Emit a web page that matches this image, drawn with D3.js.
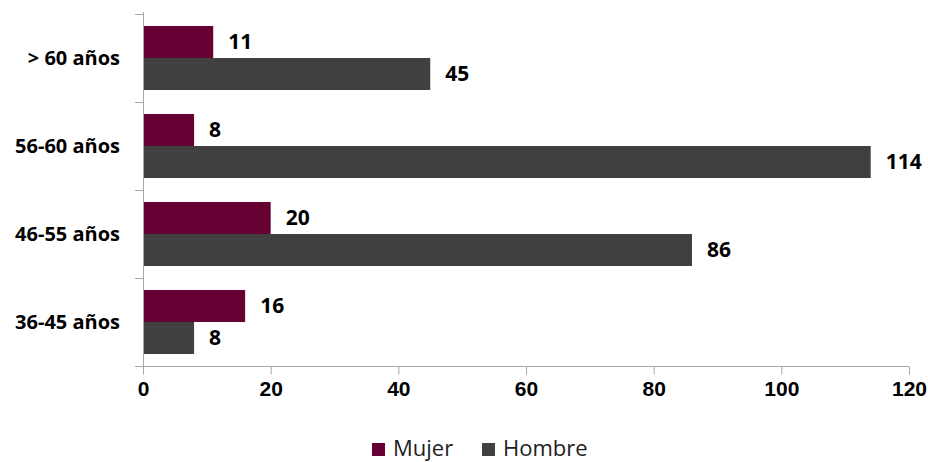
<!DOCTYPE html>
<html><head><meta charset="utf-8">
<script src="https://cdn.jsdelivr.net/npm/d3@7"></script>
<style>body{margin:0;background:#fff}svg{display:block;font-family:"Open Sans","Noto Sans",sans-serif}</style>
</head><body><svg id="c" width="928" height="462"></svg>
<script>
const categories = ["> 60 años", "56-60 años", "46-55 años", "36-45 años"];
const series = ["Mujer", "Hombre"];
const mujer = [11, 8, 20, 16];
const hombre = [45, 114, 86, 8];
const xTicks = [0, 20, 40, 60, 80, 100, 120];
const colors = ["#660033", "#404040"];

const svg = d3.select("#c");
const x = d3.scaleLinear().domain([0, 120]).range([143, 909]);
const y = d3.scaleBand().domain(categories).range([14, 366]).paddingInner(24/88).paddingOuter(12/88);
const yIn = d3.scaleBand().domain(series).range([0, y.bandwidth()]);
const axisColor = "#a6a6a6";

// y axis line and ticks
svg.append("line").attr("x1", x(0)+0.5).attr("x2", x(0)+0.5).attr("y1", 12).attr("y2", 366).attr("stroke", axisColor);
const step = y.step();
const bounds = d3.range(categories.length + 1).map(i => 14 + i*step);
svg.selectAll(".yt").data(bounds).join("line").attr("x1", 135).attr("x2", x(0)).attr("y1", d=>Math.round(d)+0.5).attr("y2", d=>Math.round(d)+0.5).attr("stroke", axisColor);

// x axis
const xa = svg.append("g").attr("transform", "translate(0,366.5)")
  .call(d3.axisBottom(x).tickValues(xTicks).tickSize(8).tickSizeOuter(0).tickPadding(10));
xa.select(".domain").attr("stroke", axisColor).attr("d", `M135,0H${x(120)}`);
xa.selectAll(".tick line").attr("stroke", axisColor);
xa.selectAll(".tick text").attr("fill", "#000").attr("font-size", 21).attr("font-weight", "bold").attr("dy", "0.55em");

const data = categories.map((c, i) => ({c, vals: [mujer[i], hombre[i]]}));
const g = svg.selectAll(".cat").data(data).join("g").attr("transform", d => `translate(0,${y(d.c)})`);
g.selectAll("rect").data(d => d.vals.map((v, j) => ({v, s: series[j], j}))).join("rect")
  .attr("x", x(0)+1).attr("y", d => yIn(d.s)).attr("width", d => x(d.v) - x(0) - 1).attr("height", yIn.bandwidth())
  .attr("fill", d => colors[d.j]);
g.selectAll("text").data(d => d.vals.map((v, j) => ({v, s: series[j]}))).join("text")
  .attr("x", d => x(d.v) + 15).attr("y", d => yIn(d.s) + yIn.bandwidth()/2).attr("dy", "0.35em")
  .attr("font-size", 21).attr("font-weight", "bold").attr("fill", "#000").text(d => d.v);

// category labels
svg.selectAll(".cl").data(categories).join("text").attr("x", 120).attr("y", d => y(d) + y.bandwidth()/2).attr("dy", "0.35em")
  .attr("text-anchor", "end").attr("font-size", 20).attr("font-weight", "bold").attr("fill", "#000").text(d => d);

// legend
const lx = [372, 482];
const lg = svg.selectAll(".lg").data(series).join("g").attr("transform", (d, i) => `translate(${lx[i]},443)`);
lg.append("rect").attr("width", 13).attr("height", 13).attr("fill", (d, i) => colors[i]);
lg.append("text").attr("x", 21).attr("y", 13).attr("font-size", 22).attr("fill", "#222").text(d => d);
</script></body></html>
